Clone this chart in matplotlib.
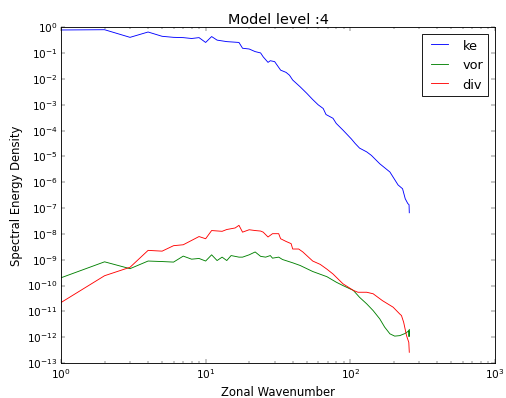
import matplotlib
matplotlib.use("Agg")
import matplotlib.pyplot as plt
from matplotlib.ticker import LogLocator

plt.style.use('classic')
plt.rcParams['font.size'] = 12

# wavenumbers and spectra
ke_k = [1, 2, 3, 4, 5, 6, 7, 8, 9, 10, 11, 12, 14, 17, 18, 20, 22, 24, 25, 27,
        28, 30, 33, 36, 38, 40, 45, 50, 55, 60, 65, 68, 76, 80, 89, 102, 108,
        116, 130, 140, 160, 188, 214, 230, 240, 250, 255, 256]
ke = [0.79, 0.81, 0.41, 0.66, 0.45, 0.41, 0.40, 0.37, 0.40, 0.26, 0.44, 0.32,
      0.28, 0.26, 0.155, 0.145, 0.115, 0.102, 0.072, 0.044, 0.051, 0.047,
      0.022, 0.018, 0.014, 0.0091, 0.0050, 0.0028, 0.0016, 0.0010, 7.2e-4,
      4.2e-4, 3.0e-4, 1.9e-4, 1.05e-4, 4.7e-5, 3.2e-5, 2.1e-5, 1.5e-5,
      1.1e-5, 5.2e-6, 2.5e-6, 7.9e-7, 5.6e-7, 2.3e-7, 1.5e-7, 1.35e-7, 6.6e-8]

vor_k = [1, 2, 3, 4, 5, 6, 7, 8, 9, 10, 11, 12, 13, 14, 15, 17, 18, 20, 22, 24,
         26, 28, 29, 32, 34, 40, 45, 55, 69, 80, 89, 105, 116, 130, 144, 160,
         173, 188, 203, 220, 240, 250, 254, 255, 256]
vor = [2.0e-10, 8.3e-10, 4.5e-10, 8.9e-10, 8.5e-10, 8.1e-10, 1.38e-9, 1.05e-9,
       1.12e-9, 8.9e-10, 1.55e-9, 9.3e-10, 1.26e-9, 9.3e-10, 1.45e-9, 1.26e-9,
       1.26e-9, 1.55e-9, 2.0e-9, 1.35e-9, 1.26e-9, 1.45e-9, 1.15e-9, 1.26e-9,
       1.02e-9, 7.6e-10, 6.0e-10, 3.5e-10, 2.2e-10, 1.35e-10, 1.0e-10, 6.5e-11,
       3.5e-11, 1.95e-11, 1.07e-11, 5.1e-12, 2.45e-12, 1.35e-12, 1.1e-12,
       1.15e-12, 1.4e-12, 1.65e-12, 1.8e-12, 1.05e-12, 2.0e-12]

div_k = [1, 2, 3, 4, 5, 6, 7, 8, 9, 10, 11, 13, 14, 16, 17, 18, 20, 22, 24, 25,
         27, 29, 32, 33, 36, 39, 40, 44, 47, 55, 62, 69, 76, 89, 105, 113, 130,
         144, 167, 198, 220, 226, 234, 245, 254, 256]
div = [2.2e-11, 2.4e-10, 5.1e-10, 2.3e-9, 2.15e-9, 3.5e-9, 3.8e-9, 5.6e-9,
       7.9e-9, 6.5e-9, 1.35e-8, 1.26e-8, 1.48e-8, 1.7e-8, 2.15e-8, 1.17e-8,
       1.45e-8, 1.35e-8, 1.29e-8, 1.17e-8, 7.6e-9, 1.02e-8, 1.02e-8, 6.5e-9,
       5.1e-9, 4.2e-9, 2.6e-9, 2.6e-9, 2.0e-9, 8.9e-10, 6.6e-10, 4.3e-10,
       2.8e-10, 1.17e-10, 6.5e-11, 5.5e-11, 5.5e-11, 4.8e-11, 2.6e-11, 1.45e-11,
       7.9e-12, 6.9e-12, 3.8e-12, 1.15e-12, 6.3e-13, 2.6e-13]

fig = plt.figure(figsize=(8, 6.308), dpi=63.25, facecolor='white')
ax = fig.add_axes([0.1206, 0.0877, 0.8574, 0.8413])

ax.loglog(ke_k, ke, 'b', label='ke')
ax.loglog(vor_k, vor, 'g', label='vor')
ax.loglog(div_k, div, 'r', label='div')

ax.set_xlim(1, 1000)
ax.set_ylim(1e-13, 1)
ax.yaxis.set_major_locator(LogLocator(base=10, numticks=20))

ax.set_title('Model level :4', fontsize=16.4)
ax.set_xlabel('Zonal Wavenumber', fontsize=13.2)
ax.set_ylabel('Spectral Energy Density', fontsize=13.2)
ax.legend(loc='upper right', fontsize=14.6)

fig.savefig('out.png', dpi=63.25, facecolor='white')
